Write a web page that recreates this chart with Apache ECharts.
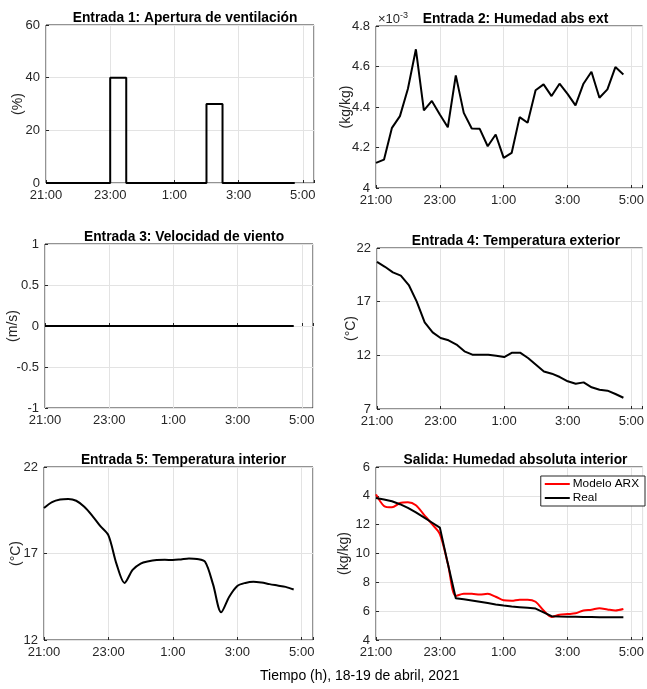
<!DOCTYPE html>
<html><head><meta charset="utf-8">
<script src="https://cdn.jsdelivr.net/npm/echarts@6/dist/echarts.min.js"></script>
<style>html,body{margin:0;padding:0;background:#fff}#c{width:647px;height:689px}</style>
</head><body><div id="c"></div>
<script>
// ---- data ----
const timeH = [0,0.25,0.5,0.75,1,1.25,1.5,1.75,2,2.25,2.5,2.75,3,3.25,3.5,3.75,4,4.25,4.5,4.75,5,5.25,5.5,5.75,6,6.25,6.5,6.75,7,7.25,7.5,7.75];
const xTickValues = [0,2,4,6,8];
const xTickLabels = ['21:00','23:00','1:00','3:00','5:00'];

const ventilacion = [0,0,0,0,0,0,0,0,40,40,0,0,0,0,0,0,0,0,0,0,30,30,0,0,0,0,0,0,0,0,0,0];
const humedadExt = [4.124,4.14,4.297,4.355,4.49,4.685,4.383,4.43,4.363,4.30,4.556,4.371,4.294,4.292,4.206,4.264,4.149,4.173,4.35,4.322,4.483,4.512,4.454,4.515,4.465,4.408,4.515,4.574,4.446,4.487,4.597,4.561];
const viento = [0,0,0,0,0,0,0,0,0,0,0,0,0,0,0,0,0,0,0,0,0,0,0,0,0,0,0,0,0,0,0,0];
const tempExt = [20.70,20.25,19.73,19.42,18.55,17.0,15.07,14.14,13.61,13.40,13.0,12.37,12.06,12.06,12.06,11.97,11.84,12.25,12.25,11.75,11.13,10.5,10.29,9.98,9.58,9.36,9.48,9.02,8.80,8.71,8.40,8.05];
const tempInt = [19.63,19.97,20.12,20.15,20.05,19.70,19.18,18.58,18.05,16.4,15.3,16.05,16.42,16.55,16.62,16.64,16.62,16.66,16.71,16.68,16.52,15.2,13.6,14.5,15.12,15.3,15.37,15.32,15.23,15.15,15.07,14.92];
const humIntModelo = [14.1,13.3,13.2,13.5,13.55,13.35,12.7,12.05,11.35,9.3,7.05,7.2,7.2,7.15,7.2,7.0,6.75,6.72,6.8,6.8,6.65,6.05,5.6,5.75,5.8,5.85,6.05,6.1,6.2,6.12,6.05,6.15];
const humIntReal = [13.85,13.75,13.62,13.42,13.17,12.85,12.5,12.15,11.8,9.3,6.9,6.82,6.74,6.65,6.56,6.47,6.39,6.33,6.28,6.23,6.18,5.92,5.65,5.63,5.62,5.61,5.6,5.59,5.58,5.58,5.57,5.57];

const yTicks6Values = [4,6,8,10,12,14,16];
const yTicks6Labels = ['4','6','8','10','12','4','6'];

const titles = ['Entrada 1: Apertura de ventilación','Entrada 2: Humedad abs ext','Entrada 3: Velocidad de viento','Entrada 4: Temperatura exterior','Entrada 5: Temperatura interior','Salida: Humedad absoluta interior'];
const yNames = ['(%)','(kg/kg)','(m/s)','(°C)','(°C)','(kg/kg)'];
const xLabel = 'Tiempo (h), 18-19 de abril, 2021';

// ---- layout ----
const FONT = 'Liberation Sans, Arial, sans-serif';
const grids = [
  {left:46, top:25, width:268, height:158},
  {left:376, top:26, width:269, height:162},
  {left:45, top:244, width:268, height:164},
  {left:377, top:248, width:268, height:161},
  {left:44, top:467, width:269, height:173},
  {left:376, top:467, width:269, height:173}
];
const yCfg = [
  {min:0,max:60,interval:20,gap:21},
  {min:4,max:4.8,interval:0.2,gap:23},
  {min:-1,max:1,interval:0.5,gap:25},
  {min:7,max:22,interval:5,gap:19},
  {min:12,max:22,interval:5,gap:21},
  {min:4,max:16,interval:2,gap:25}
];
const XMAX = 8.35;
const txt = '#262626';
const gridLine = '#e3e3e3';

function pairs(xs, ys){ return xs.map((x,i)=>[x, ys[i]]); }

const option = {
  animation:false,
  backgroundColor:'#fff',
  textStyle:{fontFamily:FONT},
  title: titles.map((t,i)=>({
    text:t, left: grids[i].left + grids[i].width/2, top: grids[i].top - 19, textAlign:'center',
    textStyle:{fontFamily:FONT, fontSize:13.8, fontWeight:'bold', color:'#000'}
  })),
  grid: grids.map(g=>Object.assign({show:true, borderColor:txt, borderWidth:1, backgroundColor:'transparent', containLabel:false}, g)),
  xAxis: grids.map((g,i)=>({
    type:'value', gridIndex:i, min:0, max:XMAX, interval:2,
    axisLine:{show:false},
    axisTick:{show:true, inside:true, length:3, lineStyle:{color:txt}},
    splitLine:{show:true, lineStyle:{color:gridLine, width:1}},
    axisLabel:{color:txt, fontSize:13, fontFamily:FONT, margin:6,
      formatter:v=>{const k=xTickValues.findIndex(a=>Math.abs(a-v)<1e-6); return k>=0?xTickLabels[k]:'';}}
  })),
  yAxis: grids.map((g,i)=>({
    type:'value', gridIndex:i, min:yCfg[i].min, max:yCfg[i].max, interval:yCfg[i].interval,
    name:yNames[i], nameLocation:'middle', nameGap:yCfg[i].gap, nameRotate:90, nameMoveOverlap:false,
    nameTextStyle:{color:txt, fontSize:14, fontFamily:FONT},
    axisLine:{show:false},
    axisTick:{show:true, inside:true, length:3, lineStyle:{color:txt}},
    splitLine:{show:true, lineStyle:{color:gridLine, width:1}},
    axisLabel:{color:txt, fontSize:13, fontFamily:FONT, margin:6,
      formatter: i===5 ? (v=>{const k=yTicks6Values.findIndex(a=>Math.abs(a-v)<1e-6); return k>=0?yTicks6Labels[k]:'';})
                       : (v=>String(+v.toFixed(2)))}
  })),
  legend:{
    data:[{name:'Modelo ARX', icon:'rect'},{name:'Real', icon:'rect'}], orient:'vertical', right:2, top:476,
    backgroundColor:'#fff', borderColor:txt, borderWidth:1, padding:[2,6,2,4],
    itemGap:2, itemWidth:25, itemHeight:2,
    textStyle:{fontSize:11.8, color:'#000', fontFamily:FONT, padding:[0,0,0,-2]}
  },
  graphic:[
    {type:'text', left:378, top:11, style:{text:'{a|×10}{b|-3}', rich:{a:{fontSize:13, fill:txt, fontFamily:FONT}, b:{fontSize:9, fill:txt, fontFamily:FONT, verticalAlign:'top', padding:[0,0,8,0]}}}},
    {type:'text', left:260, top:669, style:{text:xLabel, fontSize:14, fill:'#000', fontFamily:FONT}}
  ],
  series:[
    {type:'line', xAxisIndex:0, yAxisIndex:0, data:pairs(timeH, ventilacion), step:'end', showSymbol:false, symbol:'none', lineStyle:{color:'#000', width:2}, itemStyle:{color:'#000'}},
    {type:'line', xAxisIndex:1, yAxisIndex:1, data:pairs(timeH, humedadExt), showSymbol:false, symbol:'none', lineStyle:{color:'#000', width:2}, itemStyle:{color:'#000'}},
    {type:'line', xAxisIndex:2, yAxisIndex:2, data:pairs(timeH, viento), showSymbol:false, symbol:'none', lineStyle:{color:'#000', width:2}, itemStyle:{color:'#000'}},
    {type:'line', xAxisIndex:3, yAxisIndex:3, data:pairs(timeH, tempExt), showSymbol:false, symbol:'none', lineStyle:{color:'#000', width:2}, itemStyle:{color:'#000'}},
    {type:'line', xAxisIndex:4, yAxisIndex:4, data:pairs(timeH, tempInt), smooth:0.3, showSymbol:false, symbol:'none', lineStyle:{color:'#000', width:2}, itemStyle:{color:'#000'}},
    {name:'Modelo ARX', type:'line', xAxisIndex:5, yAxisIndex:5, data:pairs(timeH, humIntModelo), smooth:0.3, showSymbol:false, symbol:'none', lineStyle:{color:'#ff0000', width:2}, itemStyle:{color:'#ff0000'}},
    {name:'Real', type:'line', xAxisIndex:5, yAxisIndex:5, data:pairs(timeH, humIntReal), showSymbol:false, symbol:'none', lineStyle:{color:'#000', width:2}, itemStyle:{color:'#000'}}
  ]
};
const chart = echarts.init(document.getElementById('c'), null, {renderer:'canvas'});
chart.setOption(option);
</script></body></html>
